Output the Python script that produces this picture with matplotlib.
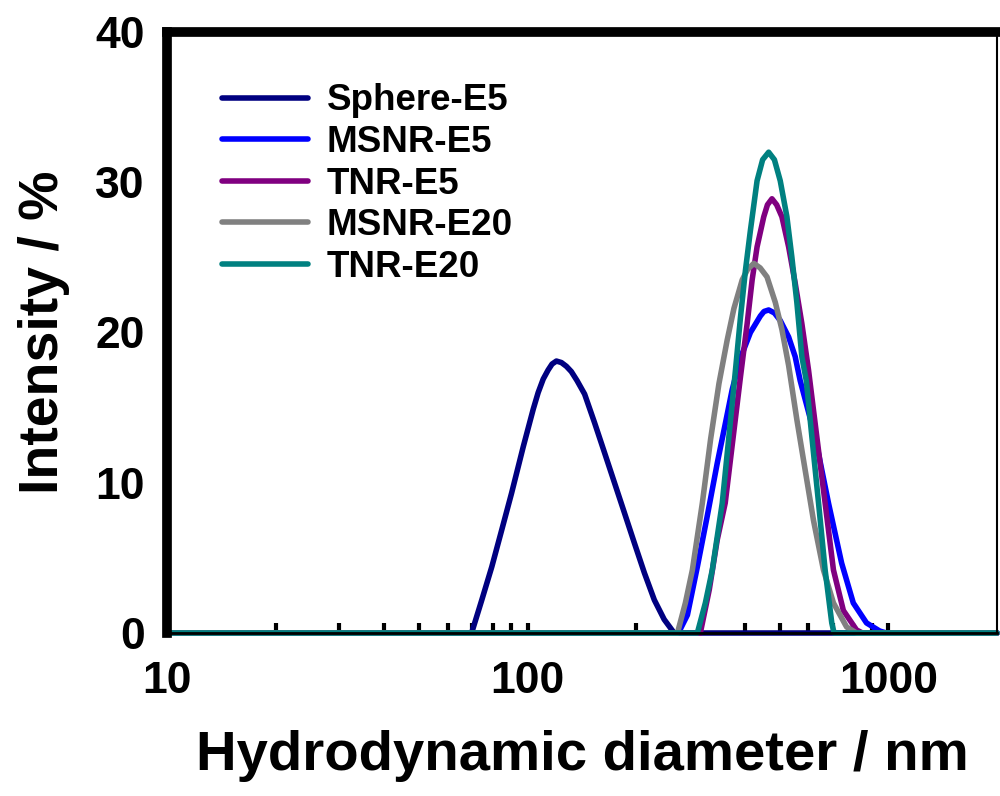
import matplotlib
matplotlib.use("Agg")
import matplotlib.pyplot as plt
from matplotlib.ticker import FixedLocator, NullFormatter

plt.rcParams["font.family"] = ["Liberation Sans", "DejaVu Sans"]
plt.rcParams["font.weight"] = "bold"

# Valeurs (diamètre en nm, intensité en %)
sphere_e5_d = [10, 69.9, 74.6, 79.5, 84.7, 90.2, 97.2, 103.6, 106.9, 110.4, 113.9, 116.8, 120.1,
               124.0, 128.0, 132.1, 137.0, 143.8, 153.2, 163.3, 174.0, 185.4, 197.5, 210.6,
               224.4, 239.0, 254.7, 2000]
sphere_e5_i = [0, 0, 2.2, 4.4, 6.85, 9.3, 12.4, 14.9, 16.0, 16.9, 17.5, 17.9, 18.1,
               18.0, 17.75, 17.4, 16.8, 15.9, 14.0, 12.0, 10.0, 8.0, 6.0, 4.0,
               2.2, 0.9, 0, 0]

msnr_e5_d = [10, 261.7, 277.2, 295.3, 314.7, 335.3, 353.5, 368.9, 388.9, 414.4, 441.6, 452.0,
             465.6, 483.0, 501.3, 528.9, 551.4, 569.3, 626.3, 682.1, 741.9, 799.1, 869.6, 946.2,
             987.4, 2000]
msnr_e5_i = [0, 0, 1.2, 4.4, 7.8, 11.3, 14.0, 16.2, 18.3, 20.0, 21.1, 21.4,
             21.5, 21.3, 20.8, 19.7, 18.4, 16.8, 13.06, 8.65, 4.65, 2.0, 0.67, 0.13,
             0, 0]

tnr_e5_d = [10, 301.0, 318.8, 335.3, 352.8, 371.3, 388.9, 405.9, 419.0, 432.4, 451.2, 462.0,
            475.5, 490.0, 506.7, 528.9, 551.4, 575.4, 600.5, 633.1, 667.6, 704.0, 750.0, 816.0,
            847.8, 2000]
tnr_e5_i = [0, 0, 2.9, 6.2, 8.65, 13.06, 17.05, 20.6, 23.5, 25.7, 27.7, 28.5,
            28.9, 28.5, 27.7, 25.7, 23.3, 20.6, 17.5, 13.06, 8.65, 4.2, 1.5, 0.2,
            0, 0]

msnr_e20_d = [10, 260.1, 273.6, 286.1, 304.9, 321.4, 339.0, 357.3, 373.0, 393.2, 407.0, 423.5,
              441.0, 460.7, 485.8, 506.7, 528.9, 557.4, 587.7, 619.8, 660.5, 704.0, 765.8, 816.0,
              2000]
msnr_e20_i = [0, 0, 2.0, 4.2, 8.65, 12.9, 16.6, 19.5, 21.6, 23.5, 24.2, 24.6,
              24.3, 23.7, 22.0, 20.2, 17.8, 14.2, 10.85, 7.5, 4.2, 2.0, 0.4, 0,
              0]

tnr_e20_d = [10, 295.3, 310.8, 324.9, 346.2, 361.2, 376.7, 388.9, 401.5, 414.4, 432.4, 448.0,
             465.6, 483.0, 501.3, 523.1, 540.0, 557.4, 575.4, 592.0, 613.5, 640.2, 667.6, 696.6,
             706.8, 2000]
tnr_e20_i = [0, 0, 2.0, 4.2, 8.65, 13.06, 17.5, 21.0, 24.15, 26.8, 30.1, 31.5,
             32.0, 31.5, 30.1, 27.7, 25.0, 22.0, 18.4, 16.8, 13.06, 8.65, 4.2, 0.67,
             0, 0]

series = [
    ("Sphere-E5", sphere_e5_d, sphere_e5_i, "#000080"),
    ("MSNR-E5", msnr_e5_d, msnr_e5_i, "#0000ff"),
    ("TNR-E5", tnr_e5_d, tnr_e5_i, "#800080"),
    ("MSNR-E20", msnr_e20_d, msnr_e20_i, "#808080"),
    ("TNR-E20", tnr_e20_d, tnr_e20_i, "#008080"),
]

fig = plt.figure(figsize=(10, 7.96), dpi=100)
ax = fig.add_axes([0.167, 1 - 633 / 796, 0.830, (633 - 32) / 796])

for nom, d, i, couleur in series:
    ax.plot(d, i, color=couleur, linewidth=4, label=nom, clip_on=False,
            solid_capstyle="round", solid_joinstyle="round")

ax.set_xscale("log")
ax.set_xlim(10, 2000)
ax.set_ylim(0, 40)

ax.xaxis.set_major_locator(FixedLocator([10, 100, 1000]))
ax.xaxis.set_minor_locator(FixedLocator([20, 30, 40, 50, 60, 70, 80, 90,
                                         200, 300, 400, 500, 600, 700, 800, 900]))
ax.xaxis.set_minor_formatter(NullFormatter())
ax.set_xticklabels(["10", "100", "1000"])
ax.set_yticks([0, 10, 20, 30, 40])

ax.tick_params(axis="x", which="both", direction="in", length=7, width=3,
               labelsize=32, pad=20, color="black")
ax.tick_params(axis="y", length=0, labelsize=32, pad=16)

for lab in ax.get_xticklabels() + ax.get_yticklabels():
    lab.set_fontweight("bold")

ax.spines["left"].set_linewidth(7)
ax.spines["top"].set_linewidth(7)
ax.spines["right"].set_linewidth(1.5)
ax.spines["bottom"].set_linewidth(2)

ax.set_xlabel("Hydrodynamic diameter / nm", fontsize=40.5, fontweight="bold", labelpad=20)
ax.set_ylabel("Intensity / %", fontsize=40, fontweight="bold", labelpad=18)

leg = ax.legend(loc="upper left", bbox_to_anchor=(0.048, 0.939), frameon=False,
                fontsize=26.5, handlelength=2.35, handletextpad=0.5, labelspacing=0.18,
                borderaxespad=0)
for t in leg.get_texts():
    t.set_fontweight("bold")

fig.savefig("out.png", dpi=100)
